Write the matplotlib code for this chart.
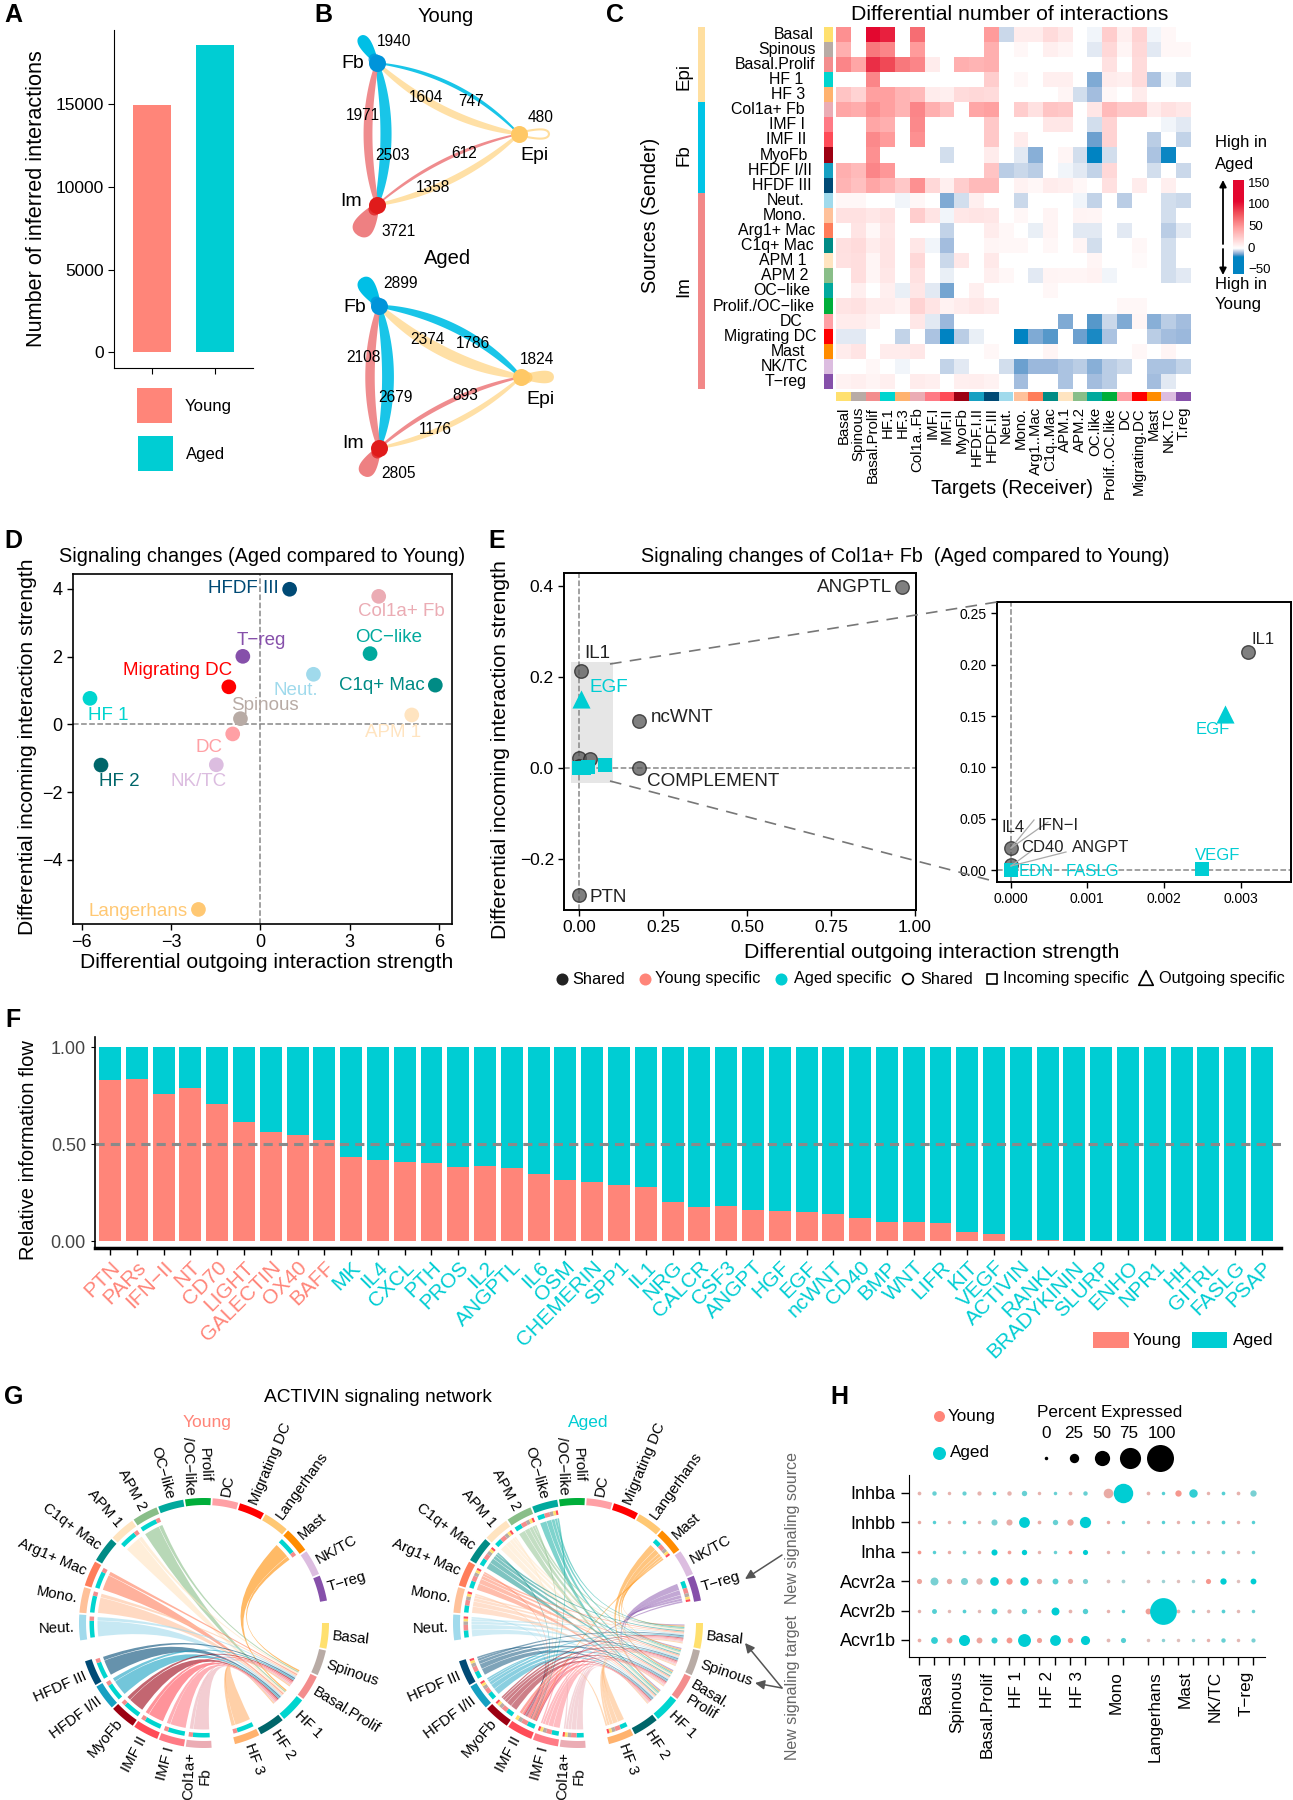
import numpy as np
import matplotlib
matplotlib.use("Agg")
import matplotlib.pyplot as plt
from matplotlib.colors import LinearSegmentedColormap, Normalize
from matplotlib.patches import Polygon, PathPatch, Rectangle
from matplotlib.path import Path

plt.rcParams['font.family'] = ['Liberation Sans', 'DejaVu Sans']
plt.rcParams['axes.unicode_minus'] = True

W, H = 1293, 1800
young_col = "#FF8579"
aged_col = "#00CDD3"

# A
bar_names = ["Young", "Aged"]
bar_vals = [14950, 18560]

# B
young_self = {"Fb": 1940, "Im": 3721, "Epi": 480}
aged_self = {"Fb": 2899, "Im": 2805, "Epi": 1824}
edge_order = [("Fb", "Im"), ("Im", "Fb"), ("Fb", "Epi"), ("Epi", "Fb"), ("Epi", "Im"), ("Im", "Epi")]
young_edges = [2503, 1971, 747, 1604, 1358, 612]
aged_edges = [2679, 2108, 1786, 2374, 1176, 893]

# C
row_names = ["Basal", "Spinous", "Basal.Prolif", "HF 1", "HF 3", "Col1a+ Fb", "IMF I", "IMF II", "MyoFb",
             "HFDF I/II", "HFDF III", "Neut.", "Mono.", "Arg1+ Mac", "C1q+ Mac", "APM 1", "APM 2", "OC\u2212like",
             "Prolif./OC\u2212like", "DC", "Migrating DC", "Mast", "NK/TC", "T\u2212reg"]
col_names = ["Basal", "Spinous", "Basal.Prolif", "HF.1", "HF.3", "Col1a..Fb", "IMF.I", "IMF.II", "MyoFb",
             "HFDF.I.II", "HFDF.III", "Neut.", "Mono.", "Arg1..Mac", "C1q..Mac", "APM.1", "APM.2", "OC.like",
             "Prolif..OC.like", "DC", "Migrating.DC", "Mast", "NK.TC", "T.reg"]
cell_cols = ["#FFE06E", "#B8ABA5", "#F38D8D", "#00D5CF", "#FFB26E", "#EBACB4", "#FF7A85", "#FF4B57", "#9C0012",
             "#16A0C2", "#004A75", "#A0DAEC", "#FFC19A", "#FF7D5A", "#008B85", "#FFE4C0", "#89BE88", "#00A99D",
             "#00AE3A", "#FFA0A5", "#FF0000", "#FF8C00", "#DCBDE0", "#8650AA"]
heat = [
    [55, 0, 118, 100, 0, 70, 0, 0, 0, 0, 50, -5, 10, 10, 18, 12, 0, -1.5, 25, 8, 22, -1.5, 4, 0],
    [40, 0, 65, 60, 0, 50, 0, 0, 0, 0, 40, 0, 4, 0, 8, 5, 0, -3, 20, 5, 20, -2.5, 4, 4],
    [60, 45, 95, 85, 65, 60, 10, 0, 40, 38, 40, 0, 0, 0, 0, 0, 0, 0, 15, 0, 18, 0, 0, 0],
    [0, 0, 60, 0, 0, 0, 0, 0, 0, 0, 25, 0, 4, 0, 8, 8, 0, -12, 10, 8, 18, -8.5, -1.5, -5],
    [30, 22, 48, 48, 38, 35, 10, 8, 18, 20, 18, 0, 0, 0, 0, 5, -4, -9, 4, 0, 10, 0, 0, 0],
    [45, 42, 55, 48, 38, 60, 40, 32, 0, 45, 48, 0, 25, 15, 30, 28, 0, 13, 35, 28, 28, 10, 15, 12],
    [0, 0, 45, 40, 0, 58, 0, 0, 0, 0, 28, 0, 0, 0, 12, 12, 0, -4.5, 22, 0, 0, 0, -1.5, -3],
    [0, 0, 58, 50, 0, 55, 0, 0, 0, 0, 28, 0, 10, 0, 0, 0, 0, -14, 22, 0, 0, -7, 0, -6],
    [0, 0, 55, 0, 0, 0, 0, -4, 0, 0, 10, 0, -2.5, -11, 0, 5, -4, -20, -4, 0, 0, -8, -19, 0],
    [40, 35, 60, 52, 0, 0, 0, 0, 0, 0, 30, -7, -5, -7, 0, -1.5, -3, -6, 20, 0, 0, -4, 0, -5],
    [38, 32, 45, 38, 28, 55, 20, 8, 25, 35, 35, 0, 7, 4, 10, 8, 4, 0, 16, 0, 10, 0, 8, 0],
    [4, 4, 0, 0, -1.5, 4, 0, -12, -4, 8, 0, 0, -5, 0, 0, 0, -1.5, -6, 0, -7, 0, 0, -4, -5],
    [15, 15, 12, 15, 0, 25, 14, -1.5, 12, 14, 13, 0, 4, 0, 6, 0, 6, 5, 0, 0, 0, 0, -4, 0],
    [0, 14, 4, 13, 0, 0, 0, -6, 0, 0, 10, 4, 0, -2, 6, 0, -3, -3, 0, -2.5, 0, 0, -7, -3],
    [16, 18, 10, 14, 0, 12, -1.5, -9, 0, 0, 5, 4, 4, 0, 4, 0, 5, -4.5, 0, 0, 4, 0, -4, 0],
    [15, 17, 5, 14, 0, 20, 0, -5, 12, 0, 11, 0, 0, 0, 0, 0, 0, 5, 0, 0, 3, 0, -4, 0],
    [0, 17, 5, 12, 0, 15, 0, -2, 0, 0, 8, 4, 0, -2.5, 6, 5, 5, 7, -1, 0, 0, 0, -4, -3],
    [0, 8, 0, 8, -2, 13, -3, -13, 0, 8, 0, 0, 0, 0, 4, 0, 0, 0, 0, 0, 0, 0, 0, 0],
    [14, 15, 10, 10, 7, 22, 14, 7, 10, 12, 10, 0, 0, 0, 0, 0, 0, 0, 0, 4, 4, 0, 0, 0],
    [10, 10, 7, 0, 0, 12, -3, -10, 0, 0, 0, 0, 0, 0, 0, -12, 0, -15, -5, -12, 5, -11, -7, -9],
    [-2.5, -2.5, 0, 0, -6, 0, -8, -20, -7, -2, 0, 0, -20, -12, -15, 0, -14, -18, -8, 0, 0, -7, -9, -10],
    [10, 14, 0, 10, 10, 12, 0, 0, 0, 0, 4, 0, 0, 0, 5, 0, 0, 0, 0, 0, 4, 0, 5, 0],
    [0, 0, 4, 0, -1.5, 0, 0, -6, -3, 0, 0, -4, -14, -10, -9.5, -8, -7, -11, -7, -5, 0, -8, -8, -6],
    [7, 8, 6, 8, 0, 10, 8, 0, 8, 9, 7, 0, -9, 0, 0, -8, 0, -9, -7, 0, 0, -9, -3, 0],
]
group_names = ["Epi", "Fb", "Im"]
group_counts = [5, 6, 13]
group_cols = ["#FFDFA0", "#00C4E6", "#F28888"]

# D
d_names = ["HFDF III", "Col1a+ Fb", "OC\u2212like", "T\u2212reg", "Neut.", "C1q+ Mac", "Migrating DC", "HF 1",
           "Spinous", "APM 1", "DC", "HF 2", "NK/TC", "Langerhans"]
d_x = [0.98, 3.97, 3.68, -0.59, 1.78, 5.87, -1.06, -5.72, -0.67, 5.08, -0.93, -5.35, -1.48, -2.08]
d_y = [3.99, 3.78, 2.09, 2.01, 1.48, 1.16, 1.11, 0.77, 0.17, 0.28, -0.28, -1.2, -1.19, -5.46]
d_cols = ["#004A75", "#EBACB4", "#00A99D", "#8650AA", "#A0DAEC", "#008B85", "#FF0000", "#00D5CF", "#B8ABA5",
          "#FFE4C0", "#FFA0A5", "#00666A", "#DCBDE0", "#FFC873"]

# E
e_shared_x = [0.96, 0.003, 0.178, 0.178, 0.0, 0.0, 0.03, 0.0, 0.02]
e_shared_y = [0.397, 0.212, 0.104, 0.0, -0.28, 0.022, 0.02, 0.005, 0.003]
e_square_x = [0.0, 0.012, 0.025, 0.075]
e_square_y = [0.0, 0.0, 0.002, 0.006]
e_tri_x = [0.003]
e_tri_y = [0.152]
zoom_shared_x = [0.0031, 0.0, 0.0]
zoom_shared_y = [0.212, 0.022, 0.005]
zoom_square_x = [0.0, 0.0025]
zoom_square_y = [0.0, 0.001]
zoom_tri_x = [0.0028]
zoom_tri_y = [0.152]

# F
flow_names = ["PTN", "PARs", "IFN\u2212II", "NT", "CD70", "LIGHT", "GALECTIN", "OX40", "BAFF", "MK", "IL4", "CXCL",
              "PTH", "PROS", "IL2", "ANGPTL", "IL6", "OSM", "CHEMERIN", "SPP1", "IL1", "NRG", "CALCR", "CSF3",
              "ANGPT", "HGF", "EGF", "ncWNT", "CD40", "BMP", "WNT", "LIFR", "KIT", "VEGF", "ACTIVIN", "RANKL",
              "BRADYKININ", "SLURP", "ENHO", "NPR1", "HH", "GITRL", "FASLG", "PSAP"]
flow_young = [.83, .834, .756, .787, .708, .614, .563, .545, .523, .432, .417, .406, .401, .382, .389, .376, .346,
              .314, .305, .288, .278, .199, .177, .178, .161, .153, .149, .141, .117, .099, .096, .091, .046, .034,
              .007, .007, 0, 0, 0, 0, 0, 0, 0, 0]

# G
sector_names = ["Basal", "Spinous", "Basal.Prolif", "HF 1", "HF 2", "HF 3", "Col1a+\nFb", "IMF I", "IMF II", "MyoFb",
                "HFDF I/II", "HFDF III", "Neut.", "Mono.", "Arg1+ Mac", "C1q+ Mac", "APM 1", "APM 2", "OC\u2212like",
                "Prolif\n/OC\u2212like", "DC", "Migrating DC", "Langerhans", "Mast", "NK/TC", "T\u2212reg"]
sector_cols = ["#FFE06E", "#B8ABA5", "#F38D8D", "#00D5CF", "#00666A", "#FFB26E", "#EBACB4", "#FF7A85", "#FF4B57",
               "#9C0012", "#16A0C2", "#004A75", "#A0DAEC", "#FFC19A", "#FF7D5A", "#008B85", "#FFE4C0", "#89BE88",
               "#00A99D", "#00AE3A", "#FFA0A5", "#FF0000", "#FFC873", "#FF8C00", "#DCBDE0", "#8650AA"]
sector_gap_after = {"HF 3": 10, "HFDF III": 9, "T\u2212reg": 9.5}
young_sources = ["Mast", "APM 2", "APM 1", "Arg1+ Mac", "Mono.", "Neut.", "HFDF III", "HFDF I/II", "MyoFb", "IMF II",
                 "IMF I", "Col1a+\nFb", "HF 3"]
young_targets = ["HF 1", "Basal.Prolif"]
young_share = [0.8, 0.2]
aged_sources = ["T\u2212reg", "Mast", "OC\u2212like", "APM 2", "APM 1", "C1q+ Mac", "Arg1+ Mac", "Mono.", "Neut.",
                "HFDF III", "HFDF I/II", "MyoFb", "IMF II", "IMF I", "Col1a+\nFb", "HF 3"]
aged_targets = ["HF 1", "Basal.Prolif", "Spinous", "Basal", "IMF II"]
aged_share = [0.34, 0.26, 0.17, 0.13, 0.10]

# H
dot_genes = ["Inhba", "Inhbb", "Inha", "Acvr2a", "Acvr2b", "Acvr1b"]
dot_groups = ["Basal", "Spinous", "Basal.Prolif", "HF 1", "HF 2", "HF 3", "Mono", "Langerhans", "Mast", "NK/TC", "T\u2212reg"]
dot_pct = [
    [1, 4, 0, 3, 3, 1, 4, 8, 0, 0, 1, 4, 26, 68, 1, 0, 12, 21, 0, 1, 1, 12],
    [0, 0, 0, 1, 0, 11, 11, 31, 1, 8, 12, 33, 0, 0, 0, 0, 0, 0, 0, 1, 0, 0],
    [1, 0, 0, 1, 0, 11, 1, 8, 0, 0, 1, 7, 0, 0, 0, 0, 0, 0, 0, 1, 0, 0],
    [7, 19, 8, 15, 12, 22, 12, 21, 8, 10, 7, 7, 1, 1, 1, 0, 0, 0, 7, 12, 0, 10],
    [0, 6, 0, 1, 0, 10, 3, 8, 0, 19, 1, 8, 0, 0, 10, 99, 1, 0, 0, 1, 0, 0],
    [1, 14, 10, 32, 10, 11, 10, 40, 7, 31, 8, 24, 1, 7, 0, 0, 0, 0, 0, 4, 0, 3],
]
dot_expr = [
    [.5, .6, .5, .6, .5, .7, .5, .6, .5, .6, .5, .6, .6, 1, .5, .7, .9, .9, .5, .7, .5, .5],
    [.6, .7, .5, .7, .5, .5, .6, 1, .6, .6, .7, 1, .6, .7, .5, .7, .5, .7, .5, .7, .5, .7],
    [.9, .7, .6, .6, .6, 1, .8, 1, .5, .6, .9, 1, .5, .6, .4, .6, .4, .6, .4, .6, .4, .6],
    [.7, .5, .6, .5, .5, 1, .9, 1, .6, .7, .6, .5, .3, .3, .3, .3, .3, .3, .9, 1, .3, 1],
    [.5, .7, .4, .7, .4, .8, .5, .7, .5, 1, .5, .7, .5, .7, .8, 1, .5, .6, .4, .7, .4, .6],
    [.6, .9, .8, 1, .7, .9, .9, 1, .8, 1, .9, 1, .4, .7, .3, .4, .3, .4, .5, .6, .4, .5],
]
size_levels = [0, 25, 50, 75, 100]

fig = plt.figure(figsize=(W / 100, H / 100), dpi=100)


# axes from pixel box of the reference
def pax(x0, y0, x1, y1):
    return fig.add_axes([x0 / W, 1 - y1 / H, (x1 - x0) / W, (y1 - y0) / H])


ov = fig.add_axes([0, 0, 1, 1], zorder=10)
ov.set_xlim(0, W)
ov.set_ylim(H, 0)
ov.axis("off")
ov.patch.set_alpha(0)


def txt(x, y, s, size=12, color="black", ha="center", va="center", **kw):
    return ov.text(x, y, s, fontsize=size, color=color, ha=ha, va=va, **kw)


for lab, x, y in [("A", 13, 15), ("B", 323, 15), ("C", 615, 15), ("D", 13, 541), ("E", 497, 541),
                  ("F", 13, 1020), ("G", 14, 1397), ("H", 839, 1397)]:
    txt(x, y, lab, size=18, fontweight="bold")

# --- A
ax = pax(114, 30, 253, 368)
ax.bar([1, 2], bar_vals, width=0.6, color=[young_col, aged_col])
ax.set_xlim(0.397, 2.6)
ax.set_ylim(-936, 19467)
ax.set_xticks([1, 2])
ax.set_xticklabels([])
ax.set_yticks([0, 5000, 10000, 15000])
ax.tick_params(axis="y", labelsize=12.5, length=4, width=0.8)
ax.tick_params(axis="x", length=4, width=0.8)
for s in ["top", "right"]:
    ax.spines[s].set_visible(False)
txt(37, 199, "Number of inferred interactions", size=15.6, rotation=90)
ov.add_patch(Rectangle((137, 388), 35, 35, color=young_col, lw=0))
ov.add_patch(Rectangle((138, 436), 35, 35, color=aged_col, lw=0))
txt(185, 407, bar_names[0], ha="left", size=12)
txt(186, 454, bar_names[1], ha="left", size=12)

# --- B
node_cols = {"Fb": "#0094DA", "Im": "#E01B1B", "Epi": "#FFC865"}
edge_cols = {"Fb": "#00BFE6", "Im": "#EE8082", "Epi": "#FFDD9C"}
bulges = [18, 18, 28, 24, 22, 20]


def draw_edge(p0, p1, count, bulge, color):
    p0, p1 = np.array(p0, float), np.array(p1, float)
    d = p1 - p0
    n = np.array([d[1], -d[0]]) / np.hypot(*d)
    c = (p0 + p1) / 2 + bulge * n
    t = np.linspace(0, 1, 60)[:, None]
    mid = (1 - t) ** 2 * p0 + 2 * t * (1 - t) * c + t ** 2 * p1
    half = (0.0021 * count * np.sin(np.pi * t) ** 0.4 + 0.3)
    pts = np.vstack([mid + half * n, (mid - half * n)[::-1]])
    ov.add_patch(Polygon(pts, closed=True, fc=color, ec="none", alpha=0.9, zorder=2))


def draw_loop(p, ang, length, width, color, filled=True):
    t = np.linspace(0, 1, 80)
    a = np.radians(ang)
    axis_v = np.array([np.cos(a), -np.sin(a)])
    norm_v = np.array([np.sin(a), np.cos(a)])
    half = width / 2 * 1.12 * t ** 0.55 * np.sqrt(1 - t ** 5)
    p = np.array(p, float)
    up = p + np.outer(t * length, axis_v) + np.outer(half, norm_v)
    dn = p + np.outer(t * length, axis_v) - np.outer(half, norm_v)
    pts = np.vstack([up, dn[::-1]])
    if filled:
        ov.add_patch(Polygon(pts, closed=True, fc=color, ec="none", zorder=2))
        ov.scatter([p[0] + 5 * axis_v[0]], [p[1] + 5 * axis_v[1]], s=(12 / 1.389) ** 2, color=node_cols_soft[color],
                   alpha=0.75, lw=0, zorder=2.5)
    else:
        ov.add_patch(Polygon(pts, closed=True, fc="none", ec=color, lw=1.5, zorder=2))


def network(nodes, edges, selfs, loops):
    for (a, b), cnt, bg in zip(edge_order, edges, bulges):
        draw_edge(nodes[a], nodes[b], cnt, bg, edge_cols[a])
    for k, (ang, ln, wd, fl) in loops.items():
        draw_loop(nodes[k], ang, ln, wd, edge_cols[k], fl)
    for k, p in nodes.items():
        ov.scatter([p[0]], [p[1]], s=(17 / 1.389) ** 2, color=node_cols[k], zorder=3, lw=0)


node_cols_soft = {edge_cols[k]: node_cols[k] for k in node_cols}
nodes_y = {"Fb": (377, 63), "Im": (377, 205), "Epi": (519, 134)}
nodes_a = {"Fb": (379, 306), "Im": (379, 448), "Epi": (521, 377)}
network(nodes_y, young_edges, young_self, {"Fb": (122, 32, 15, True), "Im": (238, 36, 25, True), "Epi": (0, 30, 11, False)})
network(nodes_a, aged_edges, aged_self, {"Fb": (122, 33, 20, True), "Im": (240, 32, 20, True), "Epi": (0, 33, 15, True)})
num = 11.2
txt(446, 16, "Young", size=14.5)
txt(448, 258, "Aged", size=14.5)
txt(353, 64, "Fb", size=14)
txt(351, 202, "Im", size=14)
txt(535, 155, "Epi", size=14)
txt(355, 307, "Fb", size=14)
txt(353, 444, "Im", size=14)
txt(541, 399, "Epi", size=14)
txt(394, 42, str(young_self["Fb"]), size=num, zorder=5)
txt(399, 231, str(young_self["Im"]), size=num, zorder=5)
txt(541, 117, str(young_self["Epi"]), size=num, zorder=5)
for (x, y), v in zip([(393, 155), (363, 115), (471, 102), (426, 97), (433, 187), (464, 153)], young_edges):
    txt(x, y, str(v), size=num, zorder=5)
txt(400, 284, str(aged_self["Fb"]), size=num, zorder=5)
txt(398, 473, str(aged_self["Im"]), size=num, zorder=5)
txt(537, 359, str(aged_self["Epi"]), size=num, zorder=5)
for (x, y), v in zip([(395, 397), (363, 357), (473, 344), (427, 339), (435, 429), (465, 396)], aged_edges):
    txt(x, y, str(v), size=num, zorder=5)

# --- C
v_nodes = [-50, -20, -15, -10, -5, 0, 50, 80, 110, 150]
c_nodes = ["#0083C2", "#0083C2", "#5F9ACB", "#9BB8DC", "#CDDAEB", "#FFFFFF", "#FF9C9C", "#F2565E", "#E3072F", "#E3072F"]
hm_cmap = LinearSegmentedColormap.from_list("hm", [((v + 50) / 200, c) for v, c in zip(v_nodes, c_nodes)])
norm = Normalize(-50, 150)
ax = pax(836, 26.7, 1191, 389)
ax.pcolormesh(np.array(heat, float), cmap=hm_cmap, norm=norm, edgecolors="none")
ax.set_ylim(24, 0)
ax.set_xlim(0, 24)
for s in ax.spines.values():
    s.set_visible(False)
ax.set_yticks([])
ax.set_xticks([])
ax = pax(824, 26.7, 833, 389)
ax.bar(np.full(24, 0.5), np.ones(24), bottom=np.arange(24), width=1, color=cell_cols)
ax.set_xlim(0, 1)
ax.set_ylim(24, 0)
ax.axis("off")
ax = pax(836, 392, 1191, 401)
ax.bar(np.arange(24) + 0.5, np.ones(24), width=1, color=cell_cols)
ax.set_xlim(0, 24)
ax.set_ylim(0, 1)
ax.axis("off")
ax = pax(698, 26.7, 705, 389)
ax.bar([0.5, 0.5, 0.5], group_counts, bottom=np.cumsum([0] + group_counts[:-1]), width=1, color=group_cols)
ax.set_xlim(0, 1)
ax.set_ylim(24, 0)
ax.axis("off")
right_edges = [612, 618, 617, 580, 585, 584, 585, 588, 595, 606, 603, 585, 590, 615, 612, 590, 595, 600, 615, 578,
               618, 585, 595, 590]
for i, (name, r) in enumerate(zip(row_names, right_edges)):
    txt(r / 3 + 610, 26.7 + (i + 0.5) * 15.1, name, size=11.4, ha="right")
for i, name in enumerate(col_names):
    txt(836 + (i + 0.5) * 14.79, 407, name, size=10.8, rotation=90, va="top")
txt(684, 76, "Epi", size=13.5, rotation=90)
txt(684, 155, "Fb", size=13.5, rotation=90)
txt(684, 287, "Im", size=13.5, rotation=90)
txt(650, 215, "Sources (Sender)", size=14.2, rotation=90)
txt(1012, 489, "Targets (Receiver)", size=14.2)
txt(1010, 14.5, "Differential number of interactions", size=15.3)
ax = pax(1233, 180, 1244, 274)
grad = np.linspace(159, -59, 220)[:, None]
ax.imshow(grad, cmap=hm_cmap, norm=norm, aspect="auto", extent=[0, 1, -59, 159])
ax.axis("off")
for v in [150, 100, 50, 0, -50]:
    txt(1248, 184 + (150 - v) * 0.43, str(v).replace("-", "\u2212"), size=9.5, ha="left")
txt(1215, 143, "High in", size=12, ha="left")
txt(1215, 165, "Aged", size=12, ha="left")
txt(1215, 284, "High in", size=12, ha="left")
txt(1215, 305, "Young", size=12, ha="left")
ov.annotate("", xy=(1223, 180), xytext=(1223, 244), arrowprops=dict(arrowstyle="-|>", lw=1.3, color="black", shrinkA=0, shrinkB=0))
ov.annotate("", xy=(1223, 275), xytext=(1223, 249), arrowprops=dict(arrowstyle="-|>", lw=1.3, color="black", shrinkA=0, shrinkB=0))

# --- D
ax = pax(73, 574, 452, 924)
ax.axhline(0, color="#888888", ls="--", lw=1.1, zorder=1)
ax.axvline(0, color="#888888", ls="--", lw=1.1, zorder=1)
ax.scatter(d_x, d_y, s=112, c=d_cols, lw=0, zorder=3)
ax.set_xlim(-6.29, 6.43)
ax.set_ylim(-5.89, 4.44)
ax.set_xticks([-6, -3, 0, 3, 6])
ax.set_yticks([-4, -2, 0, 2, 4])
ax.tick_params(labelsize=13, length=4, width=1)
for s in ax.spines.values():
    s.set_linewidth(1.2)
d_lab = [(730, 175), (1203, 245), (1165, 322), (783, 332), (887, 481), (1145, 466), (532, 422), (324, 555), (795, 526),
         (1180, 607), (628, 653), (358, 755), (596, 753), (415, 1143)]
for (zx, zy), name, c in zip(d_lab, d_names, d_cols):
    txt(zx / 3, 530 + zy / 3, name, size=13.5, color=c)
txt(262, 556, "Signaling changes (Aged compared to Young)", size=14.3)
txt(267, 963, "Differential outgoing interaction strength", size=15.2)
txt(28, 747, "Differential incoming interaction strength", size=15.2, rotation=90)

# --- E
shared_kw = dict(c="#555555", edgecolors="#222222", linewidths=1, alpha=0.75, zorder=3)
ax = pax(564.4, 572.7, 915.6, 910)
ax.add_patch(Rectangle((-0.025, -0.032), 0.125, 0.264, fc="#E6E6E6", ec="none", zorder=0))
ax.axhline(0, color="#888888", ls="--", lw=1.1, zorder=1)
ax.axvline(0, color="#888888", ls="--", lw=1.1, zorder=1)
ax.scatter(e_shared_x, e_shared_y, s=95, **shared_kw)
ax.scatter(e_square_x, e_square_y, s=95, marker="s", c=aged_col, lw=0, zorder=4)
ax.scatter(e_tri_x, e_tri_y, s=170, marker="^", c=aged_col, lw=0, zorder=4)
ax.set_xlim(-0.045, 1.002)
ax.set_ylim(-0.312, 0.429)
ax.set_xticks([0, 0.25, 0.5, 0.75, 1])
ax.set_xticklabels(["0.00", "0.25", "0.50", "0.75", "1.00"])
ax.set_yticks([-0.2, 0, 0.2, 0.4])
ax.set_yticklabels(["\u22120.2", "0.0", "0.2", "0.4"])
ax.tick_params(labelsize=12.5, length=4, width=1)
for s in ax.spines.values():
    s.set_linewidth(1.4)
ax = pax(997, 602, 1291, 882)
ax.axhline(0, color="#888888", ls="--", lw=1.1, zorder=1)
ax.axvline(0, color="#888888", ls="--", lw=1.1, zorder=1)
ax.scatter(zoom_shared_x, zoom_shared_y, s=95, **shared_kw)
ax.scatter(zoom_square_x, zoom_square_y, s=95, marker="s", c=aged_col, lw=0, zorder=4)
ax.scatter(zoom_tri_x, zoom_tri_y, s=170, marker="^", c=aged_col, lw=0, zorder=4)
ax.set_xlim(-0.000176, 0.003654)
ax.set_ylim(-0.0114, 0.261)
ax.set_xticks([0, 0.001, 0.002, 0.003])
ax.set_xticklabels(["0.000", "0.001", "0.002", "0.003"])
ax.set_yticks([0, 0.05, 0.1, 0.15, 0.2, 0.25])
ax.set_yticklabels(["0.00", "0.05", "0.10", "0.15", "0.20", "0.25"])
ax.tick_params(labelsize=10, length=4, width=1)
for s in ax.spines.values():
    s.set_linewidth(1.4)
ov.plot([610, 997], [664, 602], color="#777777", ls=(0, (7, 5)), lw=1.2)
ov.plot([610, 997], [781, 882], color="#777777", ls=(0, (7, 5)), lw=1.2)
for x0, y0, x1, y1 in [(1011, 848, 1034, 820), (1011, 848, 1048, 822), (1011, 866, 1030, 852), (1011, 866, 1066, 852)]:
    ov.plot([x0, x1], [y0, y1], color="#AAAAAA", lw=0.9)
for x, y, s, c, kw in [(892, 588, "ANGPTL", "#222222", {"ha": "right"}), (597, 653, "IL1", "#222222", {}),
                       (609, 687, "EGF", aged_col, {}), (682, 717, "ncWNT", "#222222", {}),
                       (713, 782, "COMPLEMENT", "#222222", {}), (608, 897, "PTN", "#222222", {})]:
    txt(x, y, s, size=13.6, color=c, **kw)
for x, y, s, c in [(1263, 639, "IL1", "#222222"), (1213, 730, "EGF", aged_col), (1218, 855, "VEGF", aged_col),
                   (1012.6, 828, "IL4", "#222222"), (1058, 825, "IFN\u2212I", "#222222"), (1042, 848, "CD40", "#222222"),
                   (1101, 848, "ANGPT", "#222222"), (1036.5, 872, "EDN", aged_col), (1092, 872, "FASLG", aged_col)]:
    txt(x, y, s, size=12, color=c)
txt(905, 556, "Signaling changes of Col1a+ Fb  (Aged compared to Young)", size=14.2)
txt(932, 953, "Differential outgoing interaction strength", size=15.3)
txt(501, 750, "Differential incoming interaction strength", size=15.3, rotation=90)
ly = 979
ov.scatter([562], [ly], s=75, c="#222222", lw=0)
ov.scatter([645], [ly], s=75, c=young_col, lw=0)
ov.scatter([781], [ly], s=75, c=aged_col, lw=0)
ov.scatter([908], [ly], s=60, facecolors="none", edgecolors="black", lw=1.2)
ov.scatter([992], [ly], s=60, marker="s", facecolors="none", edgecolors="black", lw=1.2)
ov.scatter([1146], [ly - 1], s=110, marker="^", facecolors="none", edgecolors="black", lw=1.2)
for x, s in [(572, "Shared"), (655, "Young specific"), (794, "Aged specific"), (920, "Shared"),
             (1003, "Incoming specific"), (1159, "Outgoing specific")]:
    txt(x, ly, s, size=11.8, ha="left")

# --- F
ax = pax(95, 1037, 1281, 1248)
idx = np.arange(len(flow_names))
flow_young = np.array(flow_young)
ax.bar(idx, flow_young, width=0.82, color=young_col)
ax.bar(idx, 1 - flow_young, bottom=flow_young, width=0.82, color=aged_col)
ax.axhline(0.5, color="#8A8A8A", ls=(0, (3, 2)), lw=2.2)
ax.set_xlim(-0.56, 43.71)
ax.set_ylim(-0.036, 1.052)
ax.set_yticks([0, 0.5, 1])
ax.set_yticklabels(["0.00", "0.50", "1.00"], color="#444444")
ax.set_xticks(idx)
ax.set_xticklabels(flow_names, rotation=45, ha="right", rotation_mode="anchor", fontsize=15)
for i, t in enumerate(ax.get_xticklabels()):
    t.set_color(young_col if i < 9 else aged_col)
ax.tick_params(axis="y", labelsize=13, length=3)
ax.tick_params(axis="x", length=5, width=1, pad=2)
ax.spines["bottom"].set_linewidth(2.5)
ax.spines["left"].set_linewidth(1.2)
for s in ["top", "right"]:
    ax.spines[s].set_visible(False)
txt(29, 1150, "Relative information flow", size=14.5, rotation=90)
ov.add_patch(Rectangle((1093, 1332), 36, 16, color=young_col, lw=0))
ov.add_patch(Rectangle((1192, 1332), 35, 16, color=aged_col, lw=0))
txt(1133, 1341, "Young", size=12.5, ha="left")
txt(1233, 1341, "Aged", size=12.5, ha="left")

# --- G
sec_size = 11.9
sec_step = 12.75
sec_start = {}
a = 0
for name in sector_names:
    sec_start[name] = a
    a -= sec_step + sector_gap_after.get(name, 0)
sec_col = dict(zip(sector_names, sector_cols))


def ring(cx, cy, r0, r1, a0, a1, color):
    th = np.radians(np.linspace(a0, a1, 24))
    outer = np.c_[cx + r1 * np.cos(th), cy - r1 * np.sin(th)]
    inner = np.c_[cx + r0 * np.cos(th), cy - r0 * np.sin(th)][::-1]
    ov.add_patch(Polygon(np.vstack([outer, inner]), closed=True, fc=color, ec="none", zorder=3))


def ribbon(cx, cy, r, a0, a1, b0, b1, color, alpha):
    th = np.radians(np.linspace(a0, a1, 12))
    ph = np.radians(np.linspace(b0, b1, 5))
    pt = lambda ang, rr=r: (cx + rr * np.cos(ang), cy - rr * np.sin(ang))
    verts = [pt(t) for t in th]
    codes = [Path.MOVETO] + [Path.LINETO] * (len(th) - 1)
    verts += [pt(th[-1], r * 0.3), pt(ph[0], r * 0.3), pt(ph[0])]
    codes += [Path.CURVE4] * 3
    verts += [pt(t) for t in ph[1:]]
    codes += [Path.LINETO] * (len(ph) - 1)
    verts += [pt(ph[-1], r * 0.3), pt(th[0], r * 0.3), pt(th[0])]
    codes += [Path.CURVE4] * 3
    ov.add_patch(PathPatch(Path(verts, codes), fc=color, ec="none", alpha=alpha, zorder=2))


def chord(cx, cy, sources, targets, share, alpha, t_span, prolif_label):
    for name, col in zip(sector_names, sector_cols):
        s = sec_start[name]
        ring(cx, cy, 118, 125, s, s - sec_size, col)
        mid = np.radians(s - sec_size / 2)
        tx, ty = cx + 129 * np.cos(mid), cy - 129 * np.sin(mid)
        deg = np.degrees(mid)
        label = name
        if name == "Basal.Prolif" and prolif_label:
            label = "Basal.\nProlif"
        if np.cos(mid) >= 0:
            txt(tx, ty, label, size=10.8, rotation=deg, ha="left", rotation_mode="anchor", ma="center")
        else:
            txt(tx, ty, label, size=10.8, rotation=deg + 180, ha="right", rotation_mode="anchor", ma="center")
    used = {t: 0 for t in targets}
    for src in sources:
        n_t = [t for t in targets if t != src]
        w = np.array([share[targets.index(t)] for t in n_t])
        w = w / w.sum() * (sec_size - 1.2)
        pos = sec_start[src] - 0.6
        for t, wi in zip(n_t, w):
            ring(cx, cy, 110, 114.5, pos, pos - wi, sec_col[t])
            # slot on the target sector
            k = used[t]
            used[t] += 1
            b0 = sec_start[t] - 0.8 - k * t_span[t]
            ribbon(cx, cy, 106.5, pos - 0.1, pos - wi + 0.1, b0, b0 - t_span[t] * 0.9, sec_col[src], alpha)
            pos -= wi


chord(204, 1623, young_sources, young_targets, young_share, 0.6, {"HF 1": 0.8, "Basal.Prolif": 0.8}, False)
chord(578, 1623, aged_sources, aged_targets, aged_share, 0.5,
      {"HF 1": 0.65, "Basal.Prolif": 0.65, "Spinous": 0.65, "Basal": 0.65, "IMF II": 0.65}, True)
txt(378, 1398, "ACTIVIN signaling network", size=13.8)
txt(207, 1422, "Young", size=12.5, color=young_col)
txt(588, 1422, "Aged", size=12.5, color=aged_col)
txt(792, 1528, "New signaling source", size=11.5, color="#666666", rotation=90)
txt(792, 1688, "New signaling target", size=11.5, color="#666666", rotation=90)
arrow = dict(arrowstyle="-|>", lw=1.1, color="#555555", shrinkA=0, shrinkB=0, mutation_scale=14)
ov.annotate("", xy=(745, 1579), xytext=(782, 1555), arrowprops=arrow)
ov.annotate("", xy=(745, 1643), xytext=(782, 1688), arrowprops=arrow)
ov.annotate("", xy=(755, 1683), xytext=(782, 1688), arrowprops=arrow)

# --- H
def dot_s(p):
    return ((3.5 + 0.235 * np.asarray(p, float)) / 1.389) ** 2


ax = pax(909, 1475, 1265, 1657)
dot_x = np.arange(22) + np.where(np.arange(22) >= 14, 1.16, np.where(np.arange(22) >= 12, 0.55, 0))
light = np.array(matplotlib.colors.to_rgb("#D3D3D3"))
for r in range(6):
    for j in range(22):
        base = np.array(matplotlib.colors.to_rgb(young_col if j % 2 == 0 else aged_col))
        e = dot_expr[r][j] * (0.85 if dot_expr[r][j] < 1 else 1)
        ax.scatter(dot_x[j], r, s=dot_s(dot_pct[r][j]), color=(1 - e) * light + e * base, lw=0, clip_on=False,
                   zorder=3 + dot_pct[r][j] / 100)
ax.set_xlim(-0.64, 22.93)
ax.set_ylim(5.58, -0.61)
ax.set_yticks(range(6))
ax.set_yticklabels(dot_genes)
ax.set_xticks(dot_x)
ax.set_xticklabels([])
ax.tick_params(axis="y", labelsize=13, length=6, width=1)
ax.tick_params(axis="x", length=6, width=1)
for s in ["top", "right"]:
    ax.spines[s].set_visible(False)
for g, name in enumerate(dot_groups):
    ax.text((dot_x[2 * g] + dot_x[2 * g + 1]) / 2, -0.077, name, transform=ax.get_xaxis_transform(), rotation=90,
            ha="center", va="top", fontsize=12.3)
ov.scatter([939], [1416], s=(11 / 1.389) ** 2, color=young_col, lw=0)
ov.scatter([939], [1453], s=(13 / 1.389) ** 2, color=aged_col, lw=0)
txt(948, 1416, "Young", size=12.3, ha="left")
txt(950, 1453, "Aged", size=12.3, ha="left")
txt(1110, 1413, "Percent Expressed", size=12.3)
for x, lev, xt in zip([1046, 1074, 1102, 1130, 1160], size_levels, [1046, 1074, 1102, 1129, 1162]):
    ov.scatter([x], [1458], s=dot_s(lev), color="black", lw=0)
    txt(xt, 1434, str(lev), size=12.3)

fig.savefig("out.png", dpi=100)
